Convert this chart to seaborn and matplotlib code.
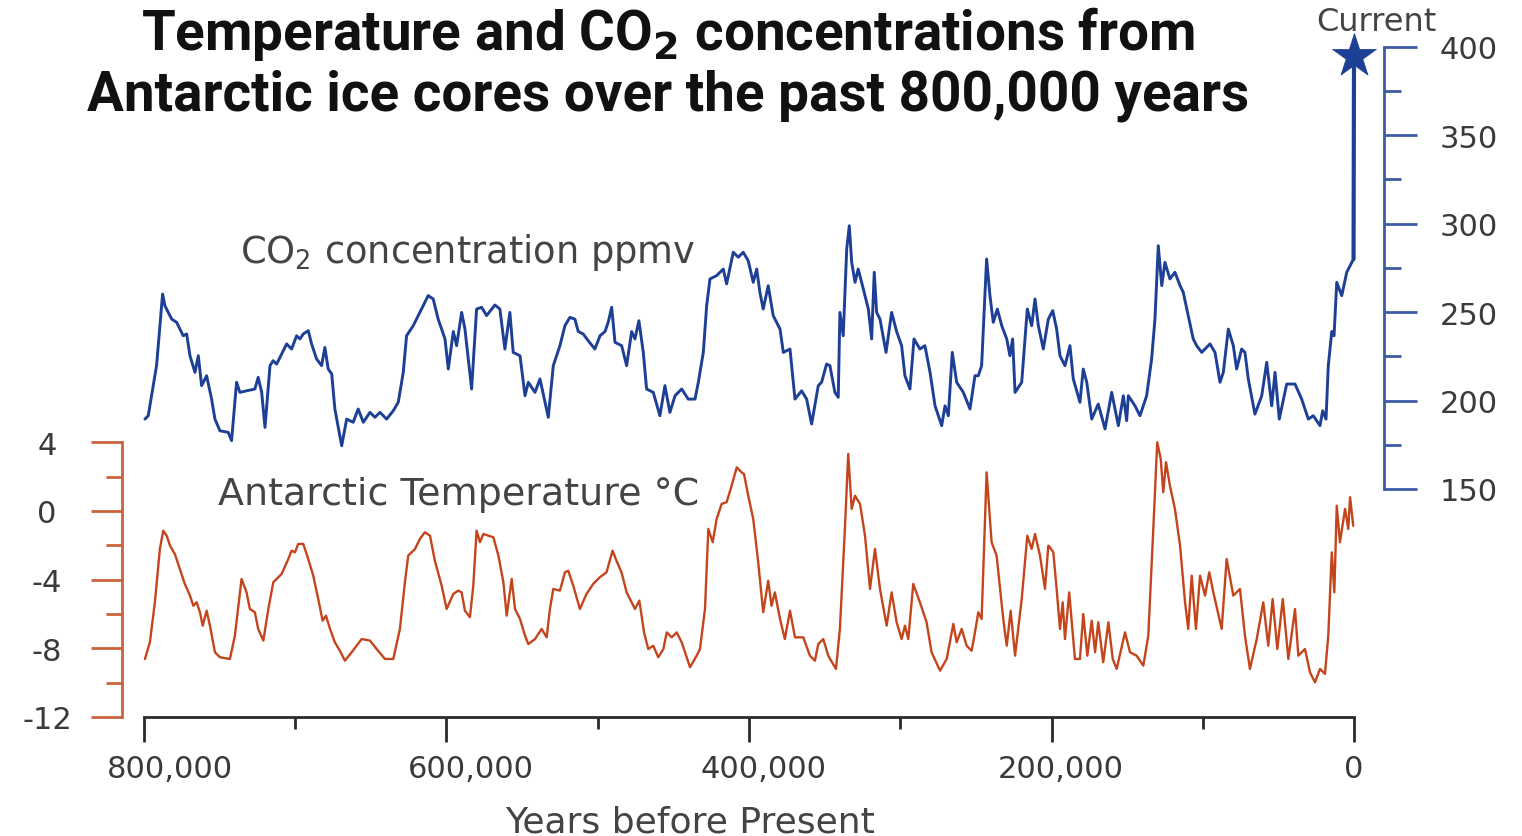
import numpy as np
import pandas as pd
import matplotlib
matplotlib.use("Agg")
import matplotlib.pyplot as plt
import matplotlib.transforms as mtransforms
import seaborn as sns
from matplotlib.ticker import FixedLocator, FuncFormatter

# ---------------- data (ages in thousands of years before present) ----------------
co2_age_kyr = [
    799.4, 797.2, 793.9, 791.7, 787.7, 786.2, 781.7, 778.4, 774.1, 771.8,
    769.6, 766.3, 764.1, 761.9, 758.6, 755.3, 753.1, 749.8, 744.3, 742.1,
    738.8, 736.6, 732.1, 726.7, 724.5, 722.2, 720.0, 716.7, 714.6, 712.3,
    705.7, 702.4, 699.1, 696.9, 694.7, 691.4, 689.2, 685.9, 682.6, 680.4,
    678.2, 675.9, 673.8, 669.3, 666.0, 661.7, 658.4, 655.0, 650.6, 647.3,
    644.0, 639.6, 635.2, 631.9, 628.6, 626.4, 622.0, 617.6, 612.1, 608.8,
    605.5, 601.0, 598.8,
    595.5, 593.3, 590.0, 587.8, 583.4, 580.1, 576.8, 573.5, 568.0, 564.7,
    561.4, 558.1, 555.9, 551.4, 548.1, 545.9, 541.5, 538.2, 532.7, 529.4,
    525.0, 521.7, 518.4, 515.1, 512.9, 509.6, 506.3, 501.9, 498.5, 495.2,
    493.1, 490.8, 488.6, 484.2, 480.9, 477.6, 475.4, 472.8, 469.9, 467.7,
    463.3, 458.9, 455.6, 452.3, 448.9, 444.5, 440.2, 435.7, 433.5, 430.2,
    428.0, 425.8, 421.4, 417.0, 414.8, 410.4, 407.1, 403.8,
    400.5, 397.2, 394.9, 392.8, 390.6, 387.3, 384.0, 379.5, 377.3, 372.9,
    369.6, 365.2, 361.9, 358.6, 354.2, 352.0, 348.7, 346.5, 343.2, 341.0,
    339.9, 337.7, 335.4, 333.7, 332.1, 329.9, 327.8, 324.4, 321.1, 318.9,
    317.2, 315.6, 313.4, 309.4, 305.7, 302.4, 299.1, 296.9, 293.6, 290.9,
    287.0, 283.7, 280.3, 277.0, 272.6, 270.4, 268.2, 265.6, 262.7, 258.3,
    253.9, 250.6, 248.4, 246.2, 242.9, 240.7, 238.5, 235.8, 232.9, 229.6,
    227.5, 225.7, 224.1, 219.7, 216.0, 213.1, 210.9, 208.7, 205.4, 202.1,
    199.2, 196.6, 194.4, 191.1, 187.8, 185.6, 181.2, 179.0, 176.7, 173.4,
    169.1, 164.6, 160.2, 155.8, 152.5, 150.3, 149.2, 144.8, 141.5, 137.1,
    133.8, 131.6, 129.4, 127.1, 125.0, 121.7, 118.4, 115.0, 112.9, 109.6,
    106.3, 104.0, 100.7, 95.2, 91.9, 88.6, 86.4, 83.1, 79.8, 77.6,
    74.3, 72.1, 69.9, 65.5, 61.0, 57.7, 54.4, 52.2, 49.4, 44.5,
    39.0, 34.6, 30.2, 26.9, 22.5, 20.7, 18.5, 17.0, 14.7, 13.2,
    11.4, 8.1, 4.8, 1.5, 0.3,
]
co2_ppm = [
    189.5, 191.4, 208.4, 219.7, 260.2, 253.6, 246.0, 244.2, 236.6, 237.6,
    225.3, 215.9, 225.3, 208.4, 214.0, 200.8, 189.5, 182.9, 182.0, 177.3,
    210.3, 204.6, 205.5, 206.5, 213.1, 204.6, 184.8, 219.7, 222.5, 220.6,
    232.0, 229.1, 236.6, 234.8, 237.6, 239.5, 232.0, 223.5, 219.7, 230.0,
    217.8, 215.0, 195.2, 174.4, 189.5, 187.7, 195.2, 187.7, 193.3, 190.5,
    193.3, 189.5, 194.2, 199.0, 215.9, 236.6, 242.3, 249.8, 259.3, 257.4,
    246.0, 234.8, 217.8,
    239.0, 231.0, 249.8, 240.4, 206.5, 251.7, 252.7, 248.0, 254.0, 251.7,
    229.1, 249.8, 227.2, 225.3, 202.7, 210.3, 204.6, 212.2, 190.5, 219.7,
    231.0, 242.3, 247.0, 246.0, 239.0, 237.6, 233.8, 229.1, 236.6, 239.0,
    244.2, 252.7, 232.9, 231.0, 219.7, 239.0, 234.8, 245.1, 227.2, 206.5,
    204.6, 191.4, 208.4, 193.3, 202.7, 206.5, 200.8, 200.8, 210.3, 227.2,
    253.6, 268.7, 270.6, 274.3, 265.9, 283.8, 281.0, 283.8,
    279.0, 266.8, 274.3, 261.2, 251.7, 264.9, 248.0, 240.4, 227.2, 229.1,
    200.8, 205.5, 200.8, 186.7, 208.4, 210.3, 220.6, 219.7, 204.6, 201.8,
    249.8, 236.6, 285.6, 298.8, 278.1, 266.8, 274.3, 263.0, 251.7, 234.8,
    272.5, 249.8, 246.0, 227.2, 249.8, 239.0, 231.0, 214.0, 206.5, 234.8,
    229.1, 231.0, 215.9, 197.0, 185.8, 197.0, 191.4, 227.2, 210.3, 204.6,
    195.2, 214.0, 214.0, 219.7, 280.0, 259.3, 244.2, 251.7, 242.3, 234.8,
    225.3, 234.8, 204.6, 210.3, 251.7, 242.3, 257.4, 242.3, 229.1, 246.0,
    250.8, 240.4, 225.3, 219.7, 231.0, 212.2, 199.0, 217.8, 210.3, 189.5,
    198.0, 183.9, 204.6, 185.8, 202.7, 188.6, 202.7, 197.0, 191.4, 202.7,
    223.5, 246.0, 287.5, 264.9, 278.1, 268.7, 272.5, 264.9, 261.2, 248.0,
    234.8, 231.0, 227.2, 232.0, 227.2, 210.3, 215.9, 240.4, 231.0, 217.8,
    229.1, 227.2, 212.2, 192.3, 202.7, 221.6, 197.0, 215.9, 189.5, 209.3,
    209.3, 200.8, 189.5, 191.4, 185.8, 194.2, 189.5, 219.7, 239.0, 236.6,
    266.8, 259.3, 272.5, 278.1, 280.0,
]
current_age_kyr = 0.0
current_ppm = 395.0

temp_age_kyr = [
    799.4, 796.1, 792.8, 789.5, 787.3, 785.0, 782.8, 779.6, 776.3, 773.0,
    769.6, 767.4, 765.2, 763.0, 761.2, 758.6, 756.4, 753.1, 749.8, 743.2,
    739.9, 735.5, 732.2, 730.0, 726.7, 724.5, 721.1, 717.8, 714.5, 709.0,
    704.6, 702.4, 700.2, 698.0, 694.7, 691.4, 688.1, 684.8, 681.9, 679.7,
    677.0, 673.8, 670.5, 667.2, 662.7, 656.1, 650.6, 646.2, 640.7, 635.2,
    630.8, 627.5, 625.3, 620.8, 617.6, 614.3, 610.9, 607.7, 603.2, 599.9,
    595.5, 592.2, 590.0, 587.8, 584.5, 582.3, 580.1, 577.9, 575.6, 572.3,
    569.0, 565.7, 562.4, 560.2, 556.9, 554.7, 551.4, 548.1, 545.9, 541.5,
    537.1, 533.8, 531.6, 529.4, 525.0, 521.7, 519.5, 516.2, 511.8, 507.4,
    503.0, 498.6, 494.2, 490.2, 487.6, 484.3, 480.9, 478.7, 475.4, 472.5,
    469.4, 466.6, 463.3, 460.0, 456.6, 454.4, 451.1, 447.8, 444.5, 439.0,
    434.6, 432.4, 429.1, 426.9, 424.0, 421.4, 418.1, 414.8, 411.5, 408.1,
    404.9,
    403.3, 400.5, 397.2, 393.9, 390.6, 387.3, 385.1, 382.9, 379.5, 376.3,
    372.9, 369.6, 364.1, 359.7, 356.4, 354.2, 350.9, 347.6, 342.5, 339.9,
    336.6, 334.4, 332.1, 329.9, 326.6, 323.3, 320.0, 316.7, 313.4, 309.0,
    305.7, 302.4, 299.1, 296.9, 294.7, 291.4, 287.0, 282.6, 279.3, 273.7,
    269.3, 264.9, 262.7, 259.4, 256.1, 252.8, 250.6, 248.4, 246.2, 242.9,
    239.6, 236.3, 231.9, 229.6, 227.0, 224.1, 219.7, 216.0, 213.1, 210.9,
    207.6, 204.3, 202.1,
    201.0, 198.8, 196.6, 194.4, 192.6, 191.1, 188.3, 184.5, 181.2, 179.0,
    176.3, 173.4, 171.2, 169.1, 165.8, 162.4, 159.5, 156.9, 151.4, 148.1,
    143.7, 139.3, 136.0, 132.7, 130.1, 127.8, 126.1, 124.3, 121.7, 118.4,
    115.0, 111.7, 109.6, 107.3, 104.5, 101.8, 98.5, 95.7, 93.0, 87.5,
    84.2, 79.8, 75.4, 72.1, 68.8, 64.3, 60.0, 56.7, 53.8, 50.7,
    47.1, 43.4, 39.0, 36.8, 32.4, 29.1, 25.8, 22.5, 19.2, 17.0,
    14.7, 13.0, 11.4, 9.3, 5.9, 3.8, 2.6, 0.5,
]
temp_c = [
    -8.62, -7.65, -5.32, -2.21, -1.15, -1.44, -2.02, -2.51, -3.38, -4.25,
    -4.93, -5.52, -5.32, -5.90, -6.68, -5.81, -6.68, -8.23, -8.52, -8.62,
    -7.26, -3.96, -4.74, -5.71, -5.90, -6.87, -7.55, -5.71, -4.15, -3.67,
    -2.80, -2.31, -2.41, -1.92, -1.92, -2.80, -3.77, -5.13, -6.39, -6.10,
    -6.87, -7.65, -8.14, -8.72, -8.23, -7.46, -7.55, -8.04, -8.62, -8.62,
    -6.87, -4.15, -2.60, -2.21, -1.63, -1.24, -1.44, -2.90, -4.35, -5.71,
    -4.83, -4.64, -4.74, -5.81, -6.19, -4.35, -1.15, -1.82, -1.34, -1.44,
    -1.53, -2.60, -4.15, -6.10, -3.96, -5.71, -6.29, -7.26, -7.75, -7.46,
    -6.87, -7.36, -5.71, -4.54, -4.64, -3.57, -3.48, -4.35, -5.71, -4.83,
    -4.25, -3.86, -3.57, -2.31, -2.90, -3.57, -4.74, -5.13, -5.71, -5.22,
    -7.07, -8.04, -7.85, -8.52, -8.04, -7.07, -7.36, -7.07, -7.65, -9.10,
    -8.43, -8.04, -5.71, -1.05, -1.82, -0.47, 0.41, 0.51, 1.47, 2.54,
    2.25,
    2.15, 0.89, -0.47, -2.99, -5.90, -4.06, -5.52, -4.74, -6.29, -7.46,
    -5.81, -7.36, -7.36, -8.43, -8.72, -7.75, -7.46, -8.43, -9.20, -6.87,
    -1.05, 3.32, 0.12, 0.89, 0.41, -1.44, -4.54, -2.21, -4.54, -6.68,
    -4.74, -6.48, -7.46, -6.68, -7.46, -4.25, -5.32, -6.48, -8.23, -9.30,
    -8.62, -6.58, -7.65, -6.87, -7.85, -8.14, -7.07, -5.90, -6.29, 2.25,
    -1.82, -2.60, -6.29, -7.85, -5.81, -8.43, -5.13, -1.44, -2.21, -1.34,
    -2.60, -4.54, -2.02,
    -2.12, -2.41, -4.54, -6.87, -5.32, -7.46, -4.74, -8.62, -8.62, -6.00,
    -8.43, -6.39, -8.23, -6.48, -8.81, -6.48, -8.62, -9.20, -7.07, -8.23,
    -8.43, -9.01, -7.26, -1.05, 4.00, 3.03, 1.09, 2.84, 1.47, 0.12,
    -2.02, -5.32, -6.87, -3.77, -6.87, -3.77, -4.93, -3.57, -4.74, -6.87,
    -2.80, -4.93, -4.54, -7.26, -9.20, -7.46, -5.32, -7.85, -5.13, -8.04,
    -5.13, -8.62, -5.71, -8.43, -8.04, -9.40, -9.98, -9.20, -9.49, -7.26,
    -2.41, -4.74, 0.31, -1.82, 0.12, -1.05, 0.80, -0.86,
]

temp_ticks = [-12, -8, -4, 0, 4]
temp_minor_ticks = [-10, -6, -2, 2]
co2_ticks = [150, 200, 250, 300, 350, 400]
co2_minor_ticks = [175, 225, 275, 325, 375]
year_ticks = [0, 200000, 400000, 600000, 800000]
year_minor_ticks = [100000, 300000, 500000, 700000]
year_label_shift_px = [0, 9, 15, 24, 26]   # labels sit right of their ticks

# ---------------- style ----------------
sns.set_theme(style="white")
plt.rcParams['font.family'] = ['DejaVu Sans']
plt.rcParams['mathtext.fontset'] = 'dejavusans'

CO2_COLOR = "#1d3f95"
CO2_AXIS = "#3d5ca6"
T_COLOR = "#c4451b"
T_AXIS = "#c9643e"
TXT = "#3a3a3a"
PT = 0.72  # points per pixel at dpi 100

W, H = 1522, 837
fig = plt.figure(figsize=(W / 100, H / 100), dpi=100)
fig.patch.set_facecolor("white")


def fx(px):
    return px / W


def fy(py):
    return 1 - py / H


ax = fig.add_axes([fx(144), fy(718), fx(1354) - fx(144), fy(40) - fy(718)])
ax.patch.set_visible(False)
ax2 = ax.twinx()

# temperature (left axis)
sns.lineplot(x=np.array(temp_age_kyr) * 1000, y=temp_c, ax=ax, color=T_COLOR,
             lw=1.7, sort=False, estimator=None, clip_on=False)
ax.set_xlim(800000, 0)
ax.set_ylim(-12, 27.49)

# CO2 (right axis)
co2_years = np.array(co2_age_kyr) * 1000
sns.lineplot(x=co2_years, y=co2_ppm, ax=ax2, color=CO2_COLOR, lw=2.1,
             sort=False, estimator=None, clip_on=False)
sns.lineplot(x=[co2_years[-1], current_age_kyr * 1000], y=[co2_ppm[-1], current_ppm],
             ax=ax2, color=CO2_COLOR, lw=3.0, sort=False, estimator=None, clip_on=False)
sns.scatterplot(x=[current_age_kyr * 1000], y=[current_ppm], ax=ax2, marker="*",
                s=1100, color=CO2_COLOR, edgecolor=CO2_COLOR, linewidth=0.5,
                clip_on=False, zorder=5)
ax2.set_ylim(21.1, 404.35)
ax2.set_xlim(800000, 0)

for a in (ax, ax2):
    a.grid(False)
    a.set_xlabel("")
    a.set_ylabel("")

# spines
ax.spines['top'].set_visible(False)
ax.spines['right'].set_visible(False)
ax.spines['left'].set_position(('outward', 22 * PT))
ax.spines['left'].set_bounds(-12, 4)
ax.spines['left'].set_color(T_AXIS)
ax.spines['left'].set_linewidth(2.0)
ax.spines['bottom'].set_bounds(0, 800000)
ax.spines['bottom'].set_color("#2a2a2a")
ax.spines['bottom'].set_linewidth(2.0)

for s in ('left', 'top', 'bottom'):
    ax2.spines[s].set_visible(False)
ax2.spines['right'].set_position(('outward', 30 * PT))
ax2.spines['right'].set_bounds(150, 400)
ax2.spines['right'].set_color(CO2_AXIS)
ax2.spines['right'].set_linewidth(2.0)

# ticks: temperature axis
ax.yaxis.set_major_locator(FixedLocator(temp_ticks))
ax.yaxis.set_minor_locator(FixedLocator(temp_minor_ticks))
ax.yaxis.set_major_formatter(FuncFormatter(lambda v, p: f"{int(v)}"))
ax.tick_params(axis='y', which='major', left=True, direction='out', length=31 * PT,
               width=2.0, color=T_AXIS, pad=44 * PT, labelsize=22, labelcolor=TXT)
ax.tick_params(axis='y', which='minor', left=True, direction='out', length=16 * PT,
               width=2.0, color=T_AXIS)
for lbl in ax.get_yticklabels():
    lbl.set_horizontalalignment('center')

# ticks: x axis
ax.xaxis.set_major_locator(FixedLocator(year_ticks))
ax.xaxis.set_minor_locator(FixedLocator(year_minor_ticks))
ax.xaxis.set_major_formatter(FuncFormatter(lambda v, p: f"{int(v):,}"))
ax.tick_params(axis='x', which='major', bottom=True, direction='out', length=25 * PT,
               width=2.0, color="#2a2a2a", pad=12 * PT, labelsize=22, labelcolor=TXT)
ax.tick_params(axis='x', which='minor', bottom=True, direction='out', length=12 * PT,
               width=2.0, color="#2a2a2a")
major_ticks = ax.xaxis.get_major_ticks(len(year_ticks))
for tick, dx in zip(major_ticks, year_label_shift_px):
    off = mtransforms.ScaledTranslation(dx / 100, 0, fig.dpi_scale_trans)
    tick.label1.set_transform(tick.label1.get_transform() + off)

# ticks: CO2 axis
ax2.yaxis.set_major_locator(FixedLocator(co2_ticks))
ax2.yaxis.set_minor_locator(FixedLocator(co2_minor_ticks))
ax2.yaxis.set_major_formatter(FuncFormatter(lambda v, p: f"{int(v)}"))
ax2.tick_params(axis='y', which='major', right=True, direction='out', length=33 * PT,
                width=2.0, color=CO2_AXIS, pad=23 * PT, labelsize=22, labelcolor=TXT)
ax2.tick_params(axis='y', which='minor', right=True, direction='out', length=17 * PT,
                width=2.0, color=CO2_AXIS)

# ---------------- texts ----------------
fig.text(fx(668), fy(50), r"Temperature and CO$_\mathbf{2}$ concentrations from",
         ha='center', va='baseline', fontsize=39.4, fontweight='bold',
         family=['Roboto', 'DejaVu Sans'], color="#111111")
fig.text(fx(668), fy(110), "Antarctic ice cores over the past 800,000 years",
         ha='center', va='baseline', fontsize=39.4, fontweight='bold',
         family=['Roboto', 'DejaVu Sans'], color="#111111")

fig.text(fx(240), fy(263), r"CO$_2$ concentration ppmv", ha='left', va='baseline',
         fontsize=26.5, color="#444444")
fig.text(fx(218), fy(505), "Antarctic Temperature °C", ha='left', va='baseline',
         fontsize=27.4, color="#444444")
fig.text(fx(690), fy(833), "Years before Present", ha='center', va='baseline',
         fontsize=26, color="#444444")
fig.text(fx(1376), fy(31), "Current", ha='center', va='baseline',
         fontsize=23, color="#444444")

fig.savefig("out.png", dpi=100)
